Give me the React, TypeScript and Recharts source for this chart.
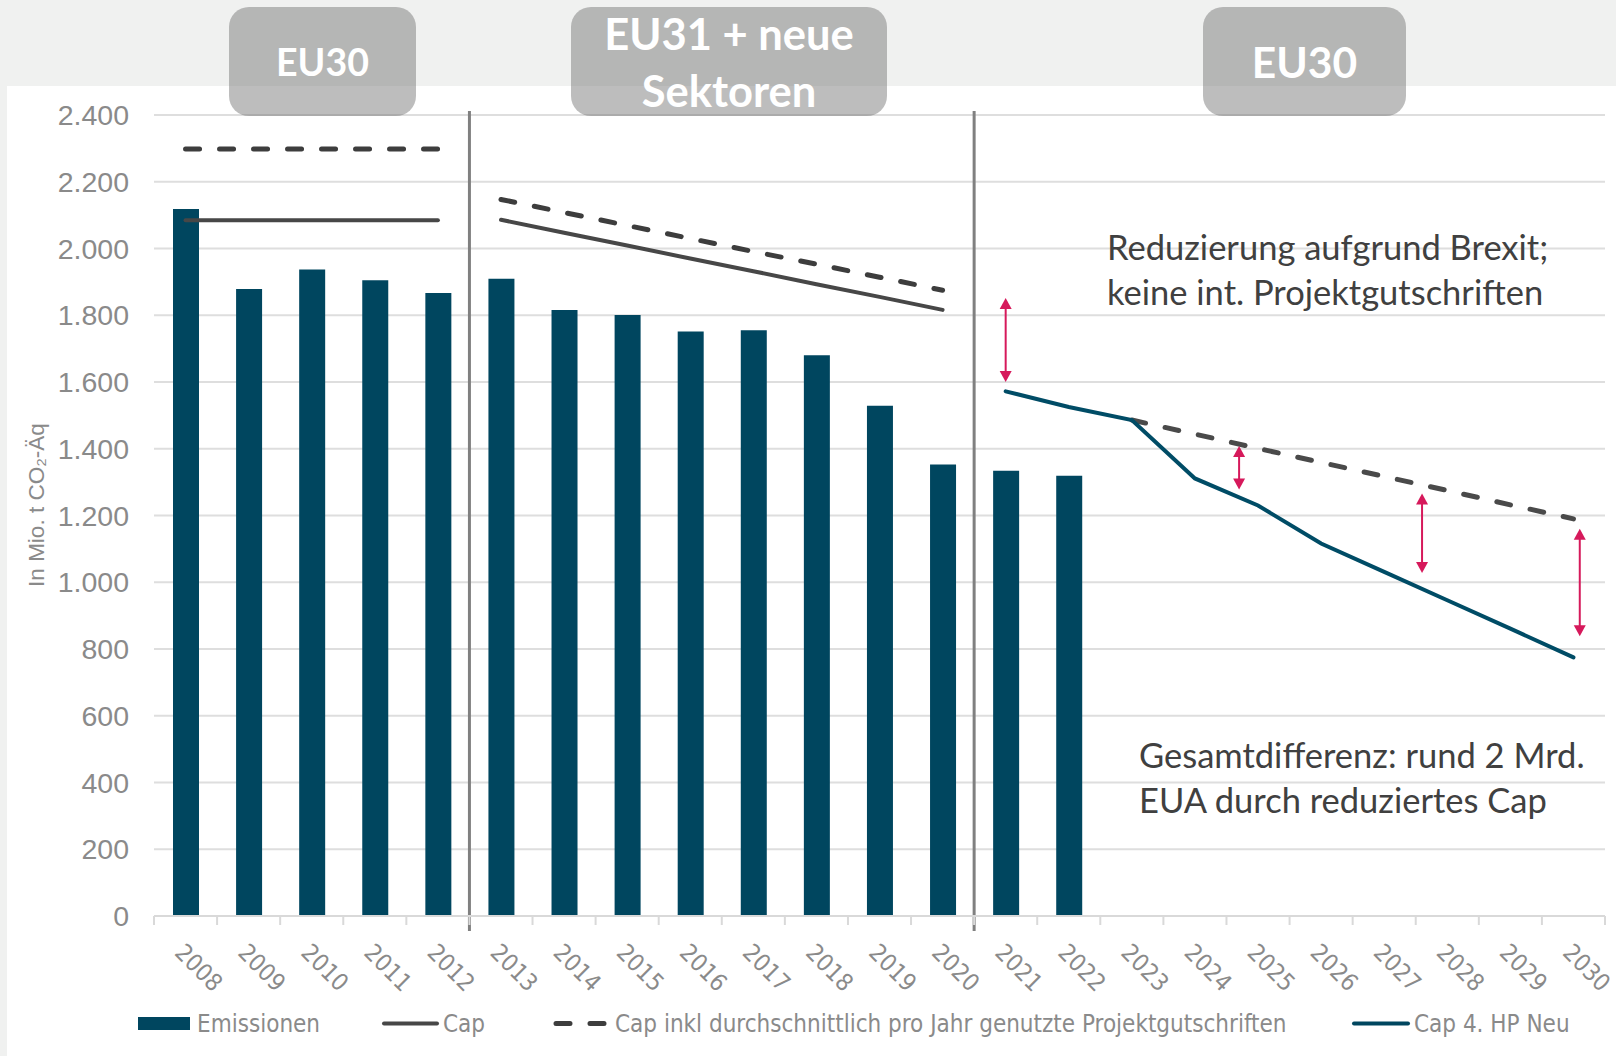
import React from 'react';
import { ComposedChart, Bar, Line, XAxis, YAxis, CartesianGrid, ReferenceLine } from 'recharts';

// Jahre (Kategorien)
const YEARS = [2008, 2009, 2010, 2011, 2012, 2013, 2014, 2015, 2016, 2017, 2018, 2019, 2020, 2021, 2022, 2023, 2024, 2025, 2026, 2027, 2028, 2029, 2030];

// Werte in Mio. t CO2-Äq
const EMISSIONEN = [2118, 1879, 1937, 1905, 1867, 1909, 1816, 1801, 1751, 1755, 1680, 1529, 1353, 1334, 1319, null, null, null, null, null, null, null, null];
const CAP_HP2 = [2085, 2085, 2085, 2085, 2085, null, null, null, null, null, null, null, null, null, null, null, null, null, null, null, null, null, null];
const CAP_HP3 = [null, null, null, null, null, 2086, 2047, 2009, 1970, 1932, 1893, 1855, 1816, null, null, null, null, null, null, null, null, null, null];
const CAP_INKL_HP2 = [2298, 2298, 2298, 2298, 2298, null, null, null, null, null, null, null, null, null, null, null, null, null, null, null, null, null, null];
const CAP_INKL_HP3 = [null, null, null, null, null, 2147, 2108, 2069, 2030, 1991, 1953, 1914, 1875, null, null, null, null, null, null, null, null, null, null];
const CAP_INKL_HP4 = [null, null, null, null, null, null, null, null, null, null, null, null, null, null, null, 1486, 1444, 1401, 1359, 1317, 1275, 1232, 1190];
const CAP_4HP_NEU = [null, null, null, null, null, null, null, null, null, null, null, null, null, 1572, 1525, 1486, 1311, 1230, 1116, 1031, 946, 861, 775];

const Y_TICKS = [0, 200, 400, 600, 800, 1000, 1200, 1400, 1600, 1800, 2000, 2200, 2400];

// Phasengrenzen und Differenz-Pfeile
const PHASE_GRENZEN = [2012.5, 2020.5];
const PFEILE = [
  { x: 2021, von: 1600, bis: 1852 },
  { x: 2024.7, von: 1278, bis: 1408 },
  { x: 2027.6, von: 1028, bis: 1266 },
  { x: 2030.1, von: 838, bis: 1160 },
];

const PHASEN = [
  { label: ['EU30'], left: 229, width: 187, size: 37.5 },
  { label: ['EU31 + neue', 'Sektoren'], left: 571, width: 316, size: 43.5 },
  { label: ['EU30'], left: 1203, width: 203, size: 42.5 },
];

const W = 1616;
const H = 1056;
const PLOT_LEFT = 154;
const PLOT_RIGHT = 1605;
const PLOT_TOP = 115;
const PLOT_BOTTOM = 916;
const BAND = (PLOT_RIGHT - PLOT_LEFT) / YEARS.length;

const TEAL = '#00465f';
const CAP_GREY = '#474747';
const DASH_GREY = '#3d3d3d';
const ARROW_RED = '#d6195b';
const LABEL_GREY = '#8a8a8a';
const NARROW = '"Liberation Sans Narrow", "DejaVu Sans Condensed", Roboto, sans-serif';

const data = YEARS.map((year, i) => ({
  year,
  emissionen: EMISSIONEN[i],
  capHp2: CAP_HP2[i],
  capHp3: CAP_HP3[i],
  inklHp2: CAP_INKL_HP2[i],
  inklHp3: CAP_INKL_HP3[i],
  inklHp4: CAP_INKL_HP4[i],
  capNeu: CAP_4HP_NEU[i],
}));

const xTicks = [...YEARS.map(y => y - 0.5), YEARS[YEARS.length - 1] + 0.5];

const fmt = (v: number) => String(v).replace(/\B(?=(\d{3})+(?!\d))/g, '.');

const XTick = (props: any) => {
  const { x, y, payload } = props;
  const year = payload.value + 0.5;
  if (year > YEARS[YEARS.length - 1]) return null;
  const ax = x + BAND / 2 - 12;
  const ay = y + 27;
  return (
    <text x={ax} y={ay} transform={`rotate(45 ${ax} ${ay})`} fill={LABEL_GREY} fontSize={24} fontFamily={NARROW} textAnchor="start">
      {year}
    </text>
  );
};

const Separator = (props: any) => (
  <line x1={props.x1} x2={props.x2} y1={PLOT_TOP - 4} y2={PLOT_BOTTOM + 15} stroke="#808080" strokeWidth={3} />
);

const Arrow = (props: any) => {
  const { x1, y1, y2 } = props;
  const top = Math.min(y1, y2);
  const bottom = Math.max(y1, y2);
  return (
    <g>
      <line x1={x1} x2={x1} y1={top + 8} y2={bottom - 8} stroke={ARROW_RED} strokeWidth={2} />
      <path d={`M${x1},${top} L${x1 - 6},${top + 11} L${x1 + 6},${top + 11} Z`} fill={ARROW_RED} />
      <path d={`M${x1},${bottom} L${x1 - 6},${bottom - 11} L${x1 + 6},${bottom - 11} Z`} fill={ARROW_RED} />
    </g>
  );
};

const LegendRow = () => (
  <svg width={W} height={40} style={{ position: 'absolute', left: 0, top: 1004 }}>
    <rect x={138} y={13} width={52} height={13} fill={TEAL} />
    <text x={197} y={27.5} fill={LABEL_GREY} fontSize={24} fontFamily={NARROW}>Emissionen</text>
    <line x1={384} x2={437} y1={19.5} y2={19.5} stroke={CAP_GREY} strokeWidth={4} strokeLinecap="round" />
    <text x={443} y={27.5} fill={LABEL_GREY} fontSize={24} fontFamily={NARROW}>Cap</text>
    <line x1={556} x2={607} y1={19.5} y2={19.5} stroke={DASH_GREY} strokeWidth={5} strokeDasharray="14 20" strokeLinecap="round" />
    <text x={615} y={27.5} fill={LABEL_GREY} fontSize={24} fontFamily={NARROW}>Cap inkl durchschnittlich pro Jahr genutzte Projektgutschriften</text>
    <line x1={1354} x2={1408} y1={19.5} y2={19.5} stroke={TEAL} strokeWidth={4} strokeLinecap="round" />
    <text x={1414} y={27.5} fill={LABEL_GREY} fontSize={24} fontFamily={NARROW}>Cap 4. HP Neu</text>
  </svg>
);

const noteStyle: React.CSSProperties = {
  position: 'absolute',
  fontFamily: 'Lato, "Open Sans", sans-serif',
  fontSize: 34.5,
  lineHeight: '45px',
  color: '#404040',
  whiteSpace: 'nowrap',
};

export default function App() {
  return (
    <div style={{ position: 'absolute', left: 0, top: 0, width: W, height: H, background: '#f0f1f0', overflow: 'hidden' }}>
      <div style={{ position: 'absolute', left: 7, top: 86, right: 0, bottom: 0, background: '#ffffff' }} />
      <div style={{ position: 'absolute', left: 0, top: 0 }}>
        <ComposedChart width={W} height={H} data={data} margin={{ top: PLOT_TOP, right: W - PLOT_RIGHT, bottom: 0, left: 0 }}>
          <CartesianGrid vertical={false} stroke="#dedede" strokeWidth={2} />
          <XAxis
            dataKey="year"
            type="number"
            domain={[YEARS[0] - 0.5, YEARS[YEARS.length - 1] + 0.5]}
            ticks={xTicks}
            interval={0}
            height={H - PLOT_BOTTOM}
            axisLine={{ stroke: '#d9d9d9', strokeWidth: 2 }}
            tickLine={{ stroke: '#d9d9d9', strokeWidth: 2 }}
            tickSize={9}
            tick={<XTick />}
          />
          <YAxis
            domain={[0, 2400]}
            ticks={Y_TICKS}
            width={PLOT_LEFT}
            axisLine={false}
            tickLine={false}
            tickSize={0}
            tickMargin={25}
            tickFormatter={fmt}
            tick={{ fill: LABEL_GREY, fontSize: 28.5, fontFamily: '"Liberation Sans", Arial, sans-serif' }}
          />
          <Bar dataKey="emissionen" fill={TEAL} barSize={26} isAnimationActive={false} />
          <Line dataKey="capHp2" stroke={CAP_GREY} strokeWidth={4} dot={false} activeDot={false} strokeLinecap="round" isAnimationActive={false} />
          <Line dataKey="capHp3" stroke={CAP_GREY} strokeWidth={4} dot={false} activeDot={false} strokeLinecap="round" isAnimationActive={false} />
          <Line dataKey="inklHp2" stroke={DASH_GREY} strokeWidth={5} strokeDasharray="14 20" strokeLinecap="round" dot={false} activeDot={false} isAnimationActive={false} />
          <Line dataKey="inklHp3" stroke={DASH_GREY} strokeWidth={5} strokeDasharray="14 20" strokeLinecap="round" dot={false} activeDot={false} isAnimationActive={false} />
          <Line dataKey="inklHp4" stroke="#4a4a4a" strokeWidth={5} strokeDasharray="14 20" strokeLinecap="round" dot={false} activeDot={false} isAnimationActive={false} />
          <Line dataKey="capNeu" stroke="#004c66" strokeWidth={4} dot={false} activeDot={false} strokeLinecap="round" isAnimationActive={false} />
          {PHASE_GRENZEN.map(x => (
            <ReferenceLine key={x} x={x} shape={Separator} />
          ))}
          {PFEILE.map(p => (
            <ReferenceLine key={p.x} segment={[{ x: p.x, y: p.bis }, { x: p.x, y: p.von }]} shape={Arrow} />
          ))}
        </ComposedChart>
      </div>
      <div
        style={{
          position: 'absolute',
          left: 37,
          top: 505,
          transform: 'translate(-50%, -50%) rotate(-90deg)',
          color: LABEL_GREY,
          fontSize: 22.5,
          fontFamily: '"Liberation Sans", Arial, sans-serif',
          whiteSpace: 'nowrap',
        }}
      >
        In Mio. t CO₂-Äq
      </div>
      {PHASEN.map(p => (
        <div
          key={p.left}
          style={{
            position: 'absolute',
            left: p.left,
            top: 7,
            width: p.width,
            height: 109,
            borderRadius: 20,
            background: 'rgba(114,114,114,0.47)',
            color: '#ffffff',
            fontFamily: 'Lato, "Open Sans", sans-serif',
            fontWeight: 700,
            fontSize: p.size,
            lineHeight: '57px',
            display: 'flex',
            flexDirection: 'column',
            alignItems: 'center',
            justifyContent: 'center',
          }}
        >
          {p.label.map(l => (
            <span key={l}>{l}</span>
          ))}
        </div>
      ))}
      <div style={{ ...noteStyle, left: 1107, top: 224 }}>
        Reduzierung aufgrund Brexit;
        <br />
        keine int. Projektgutschriften
      </div>
      <div style={{ ...noteStyle, left: 1139, top: 732 }}>
        Gesamtdifferenz: rund 2 Mrd.
        <br />
        EUA durch reduziertes Cap
      </div>
      <LegendRow />
    </div>
  );
}
